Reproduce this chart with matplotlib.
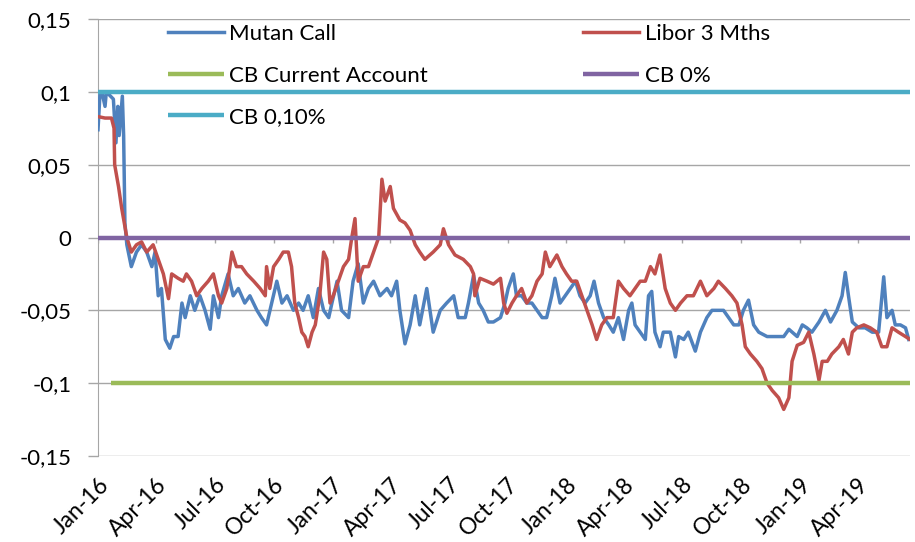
import numpy as np
import pandas as pd
import matplotlib.pyplot as plt
import matplotlib.transforms as mtrans

plt.rcParams['font.family'] = ['Lato', 'DejaVu Sans']

# ---------- Data ----------
mutan_dates = [
    '2016-01-01', '2016-01-04', '2016-01-07', '2016-01-12', '2016-01-14', '2016-01-25', '2016-01-29',
    '2016-02-01', '2016-02-03', '2016-02-08', '2016-02-10', '2016-02-12', '2016-02-15', '2016-02-22',
    '2016-03-01', '2016-03-09', '2016-03-17', '2016-03-25', '2016-03-30', '2016-04-04', '2016-04-09',
    '2016-04-15', '2016-04-22', '2016-04-28', '2016-05-05', '2016-05-11', '2016-05-16', '2016-05-24',
    '2016-05-31', '2016-06-08', '2016-06-16', '2016-06-24', '2016-06-29', '2016-07-07', '2016-07-12',
    '2016-07-22', '2016-07-30', '2016-08-07', '2016-08-17', '2016-08-25', '2016-09-05', '2016-09-12',
    '2016-09-20', '2016-09-28', '2016-10-06', '2016-10-14', '2016-10-22', '2016-11-01', '2016-11-09',
    '2016-11-16', '2016-11-24', '2016-12-02', '2016-12-10', '2016-12-18', '2016-12-26', '2016-12-31',
    '2017-01-08', '2017-01-15', '2017-01-26', '2017-02-02', '2017-02-10', '2017-02-18', '2017-02-26',
    '2017-03-06', '2017-03-16', '2017-03-27', '2017-04-03', '2017-04-11', '2017-04-16', '2017-04-24',
    '2017-05-02', '2017-05-10', '2017-05-17', '2017-05-28', '2017-06-07', '2017-06-18', '2017-06-28',
    '2017-07-09', '2017-07-16', '2017-07-27', '2017-08-01', '2017-08-09', '2017-08-17', '2017-08-24',
    '2017-09-01', '2017-09-09', '2017-09-20', '2017-09-27', '2017-10-02', '2017-10-10', '2017-10-15',
    '2017-10-23', '2017-10-31', '2017-11-08', '2017-11-16', '2017-11-24', '2017-12-01', '2017-12-09',
    '2017-12-14', '2017-12-22', '2017-12-30', '2018-01-07', '2018-01-15', '2018-01-22', '2018-01-30',
    '2018-02-07', '2018-02-13', '2018-02-20', '2018-02-28', '2018-03-08', '2018-03-15', '2018-03-23',
    '2018-03-31', '2018-04-08', '2018-04-13', '2018-04-18', '2018-04-26', '2018-05-04', '2018-05-09',
    '2018-05-14', '2018-05-19', '2018-05-27', '2018-06-01', '2018-06-12', '2018-06-20', '2018-06-25',
    '2018-07-03', '2018-07-10', '2018-07-21', '2018-07-29', '2018-08-08', '2018-08-16', '2018-08-24',
    '2018-09-03', '2018-09-11', '2018-09-19', '2018-09-27', '2018-10-04', '2018-10-12', '2018-10-20',
    '2018-10-28', '2018-11-10', '2018-11-23', '2018-12-06', '2018-12-14', '2018-12-27', '2019-01-04',
    '2019-01-11', '2019-01-19', '2019-01-30', '2019-02-09', '2019-02-17', '2019-02-27', '2019-03-07',
    '2019-03-12', '2019-03-17', '2019-03-23', '2019-04-02', '2019-04-12', '2019-04-23', '2019-05-03',
    '2019-05-11', '2019-05-16', '2019-05-24', '2019-05-29', '2019-06-06', '2019-06-14', '2019-06-19',
]
mutan_vals = [
    0.074, 0.098, 0.1, 0.09, 0.1, 0.095, 0.065,
    0.09, 0.07, 0.097, 0.07, 0.01, -0.005, -0.02,
    -0.01, -0.005, -0.01, -0.02, -0.01, -0.04, -0.035,
    -0.07, -0.076, -0.068, -0.068, -0.045, -0.055, -0.04,
    -0.05, -0.04, -0.05, -0.063, -0.04, -0.055, -0.04,
    -0.025, -0.04, -0.035, -0.045, -0.04, -0.05, -0.055,
    -0.06, -0.045, -0.03, -0.045, -0.04, -0.05, -0.045,
    -0.05, -0.04, -0.055, -0.035, -0.05, -0.055, -0.045,
    -0.03, -0.05, -0.055, -0.03, -0.018, -0.045, -0.035,
    -0.03, -0.04, -0.035, -0.04, -0.03, -0.05, -0.073,
    -0.06, -0.04, -0.06, -0.035, -0.065, -0.05, -0.045,
    -0.04, -0.055, -0.055, -0.045, -0.026, -0.045, -0.05,
    -0.058, -0.058, -0.055, -0.045, -0.035, -0.025, -0.04,
    -0.04, -0.045, -0.045, -0.05, -0.055, -0.055, -0.04,
    -0.028, -0.045, -0.04, -0.035, -0.03, -0.04, -0.045,
    -0.04, -0.03, -0.045, -0.055, -0.06, -0.065, -0.055,
    -0.07, -0.05, -0.045, -0.06, -0.065, -0.07, -0.04,
    -0.037, -0.065, -0.075, -0.065, -0.065, -0.082, -0.068,
    -0.07, -0.065, -0.078, -0.065, -0.055, -0.05, -0.05,
    -0.05, -0.055, -0.06, -0.06, -0.05, -0.043, -0.06,
    -0.065, -0.068, -0.068, -0.068, -0.063, -0.068, -0.06,
    -0.062, -0.065, -0.058, -0.05, -0.058, -0.05, -0.04,
    -0.024, -0.04, -0.058, -0.062, -0.062, -0.065, -0.065,
    -0.027, -0.055, -0.05, -0.06, -0.06, -0.062, -0.07,
]

libor_dates = [
    '2016-01-01', '2016-01-12', '2016-01-22', '2016-01-26', '2016-01-27', '2016-02-02', '2016-02-07',
    '2016-02-11', '2016-02-15', '2016-02-22', '2016-03-01', '2016-03-09', '2016-03-17', '2016-03-27',
    '2016-04-04', '2016-04-12', '2016-04-20', '2016-04-25', '2016-05-05', '2016-05-13', '2016-05-18',
    '2016-05-26', '2016-06-03', '2016-06-11', '2016-06-21', '2016-06-29', '2016-07-07', '2016-07-12',
    '2016-07-20', '2016-07-28', '2016-08-04', '2016-08-12', '2016-08-20', '2016-08-31', '2016-09-10',
    '2016-09-18', '2016-09-20', '2016-09-25', '2016-10-01', '2016-10-09', '2016-10-16', '2016-10-24',
    '2016-10-29', '2016-11-03', '2016-11-09', '2016-11-14', '2016-11-19', '2016-11-24', '2016-11-30',
    '2016-12-05', '2016-12-12', '2016-12-18', '2016-12-23', '2016-12-28', '2017-01-02', '2017-01-10',
    '2017-01-18', '2017-01-26', '2017-01-31', '2017-02-05', '2017-02-10', '2017-02-18', '2017-02-26',
    '2017-03-06', '2017-03-14', '2017-03-19', '2017-03-24', '2017-04-01', '2017-04-06', '2017-04-16',
    '2017-04-24', '2017-05-02', '2017-05-10', '2017-05-17', '2017-05-25', '2017-06-07', '2017-06-18',
    '2017-06-23', '2017-07-01', '2017-07-11', '2017-07-24', '2017-08-04', '2017-08-09', '2017-08-11',
    '2017-08-19', '2017-08-30', '2017-09-09', '2017-09-20', '2017-09-25', '2017-09-30', '2017-10-08',
    '2017-10-15', '2017-10-23', '2017-10-31', '2017-11-08', '2017-11-16', '2017-11-24', '2017-11-29',
    '2017-12-06', '2017-12-17', '2017-12-25', '2018-01-01', '2018-01-09', '2018-01-17', '2018-01-25',
    '2018-02-02', '2018-02-10', '2018-02-17', '2018-02-25', '2018-03-05', '2018-03-15', '2018-03-23',
    '2018-03-31', '2018-04-10', '2018-04-18', '2018-04-26', '2018-05-04', '2018-05-12', '2018-05-19',
    '2018-05-27', '2018-06-04', '2018-06-12', '2018-06-20', '2018-06-28', '2018-07-08', '2018-07-18',
    '2018-07-29', '2018-08-08', '2018-08-19', '2018-08-26', '2018-09-06', '2018-09-16', '2018-09-24',
    '2018-10-02', '2018-10-07', '2018-10-15', '2018-10-25', '2018-11-02', '2018-11-10', '2018-11-18',
    '2018-11-28', '2018-12-06', '2018-12-14', '2018-12-19', '2018-12-27', '2019-01-06', '2019-01-14',
    '2019-01-22', '2019-01-30', '2019-02-04', '2019-02-12', '2019-02-19', '2019-03-02', '2019-03-09',
    '2019-03-17', '2019-03-23', '2019-03-30', '2019-04-10', '2019-04-20', '2019-04-30', '2019-05-08',
    '2019-05-16', '2019-05-24', '2019-06-03', '2019-06-14', '2019-06-21',
]
libor_vals = [
    0.083, 0.082, 0.082, 0.075, 0.05, 0.035, 0.02,
    0.01, 0.0, -0.01, -0.005, -0.003, -0.01, -0.005,
    -0.015, -0.025, -0.042, -0.025, -0.028, -0.03, -0.025,
    -0.03, -0.04, -0.035, -0.03, -0.025, -0.04, -0.045,
    -0.035, -0.01, -0.02, -0.02, -0.025, -0.03, -0.035,
    -0.04, -0.02, -0.035, -0.02, -0.015, -0.01, -0.01,
    -0.02, -0.045, -0.055, -0.065, -0.068, -0.075, -0.065,
    -0.06, -0.04, -0.01, -0.015, -0.045, -0.04, -0.03,
    -0.02, -0.015, 0.0, 0.013, -0.03, -0.02, -0.02,
    -0.01, 0.0, 0.04, 0.025, 0.035, 0.02, 0.012,
    0.01, 0.005, -0.005, -0.01, -0.015, -0.01, -0.005,
    0.006, -0.005, -0.012, -0.015, -0.02, -0.025, -0.04,
    -0.028, -0.03, -0.032, -0.028, -0.045, -0.052, -0.045,
    -0.04, -0.035, -0.045, -0.04, -0.03, -0.025, -0.01,
    -0.02, -0.012, -0.02, -0.025, -0.03, -0.03, -0.04,
    -0.05, -0.06, -0.07, -0.06, -0.055, -0.055, -0.03,
    -0.035, -0.04, -0.035, -0.03, -0.03, -0.02, -0.025,
    -0.012, -0.035, -0.045, -0.05, -0.045, -0.04, -0.04,
    -0.03, -0.04, -0.035, -0.03, -0.035, -0.04, -0.045,
    -0.06, -0.075, -0.08, -0.085, -0.09, -0.1, -0.105,
    -0.11, -0.118, -0.11, -0.085, -0.074, -0.072, -0.065,
    -0.08, -0.098, -0.085, -0.085, -0.08, -0.075, -0.07,
    -0.08, -0.065, -0.062, -0.06, -0.062, -0.065, -0.075,
    -0.075, -0.062, -0.065, -0.068, -0.07,
]

# central bank reference levels
cb_current_dates = ['2016-01-22', '2019-06-21']
cb_current_vals = [-0.1, -0.1]
cb_zero_dates = ['2016-01-01', '2019-06-21']
cb_zero_vals = [0.0, 0.0]
cb_010_dates = ['2016-01-01', '2019-06-21']
cb_010_vals = [0.1, 0.1]

y_ticks = [-0.15, -0.1, -0.05, 0.0, 0.05, 0.1, 0.15]
y_tick_labels = ['-0,15', '-0,1', '-0,05', '0', '0,05', '0,1', '0,15']
x_ticks = pd.date_range('2016-01-01', '2019-04-01', freq='QS')

# ---------- Plot ----------
fig = plt.figure(figsize=(9.15, 5.42), dpi=100)
ax = fig.add_axes([98 / 915, 1 - 456 / 542, (910 - 98) / 915, (456 - 19) / 542])

grid_col = '#A6A6A6'
ax.plot(pd.to_datetime(mutan_dates), mutan_vals, color='#4F81BD', lw=2.5, label='Mutan Call', zorder=3)
ax.plot(pd.to_datetime(libor_dates), libor_vals, color='#C0504D', lw=2.5, label='Libor 3 Mths', zorder=4)
ax.plot(pd.to_datetime(cb_current_dates), cb_current_vals, color='#9BBB59', lw=3.2,
        label='CB Current Account', zorder=5, solid_capstyle='butt')
ax.plot(pd.to_datetime(cb_zero_dates), cb_zero_vals, color='#8064A2', lw=3.2, label='CB 0%',
        zorder=6, solid_capstyle='butt')
ax.plot(pd.to_datetime(cb_010_dates), cb_010_vals, color='#4BACC6', lw=3.2, label='CB 0,10%',
        zorder=7, solid_capstyle='butt')

ax.set_xlim(pd.Timestamp('2016-01-01'), pd.Timestamp('2019-06-21'))
ax.set_ylim(-0.15, 0.15)

ax.set_yticks(y_ticks)
ax.set_yticklabels(y_tick_labels)
ax.set_xticks(x_ticks)
ax.set_xticklabels([d.strftime('%b-%y') for d in x_ticks], rotation=45, ha='right',
                   va='top', rotation_mode='anchor')
shift = mtrans.ScaledTranslation(4 / 100, 0, fig.dpi_scale_trans)
for lab in ax.get_xticklabels():
    lab.set_transform(lab.get_transform() + shift)

ax.grid(axis='y', color=grid_col, lw=1)
ax.set_axisbelow(True)
for s in ['top', 'right', 'bottom']:
    ax.spines[s].set_visible(False)
ax.spines['left'].set_color(grid_col)
ax.tick_params(axis='y', length=7, color=grid_col, width=1, pad=12, labelsize=16)
ax.tick_params(axis='x', length=0, pad=13, labelsize=16.5)

# small date ticks on the zero line, as in the original
ax.vlines(x_ticks, -0.004, 0, color=grid_col, lw=1, zorder=2)

h, l = ax.get_legend_handles_labels()
order = [0, 2, 4, 1, 3]
ax.legend([h[i] for i in order], [l[i] for i in order], ncol=2, frameon=False, fontsize=16,
          loc='upper left', bbox_to_anchor=(168 / 915, 1 - 24 / 542), bbox_transform=fig.transFigure,
          borderpad=0, borderaxespad=0, handlelength=2.5, handletextpad=0.25,
          labelspacing=0.97, columnspacing=7.0)

fig.savefig('out.png', dpi=100)
